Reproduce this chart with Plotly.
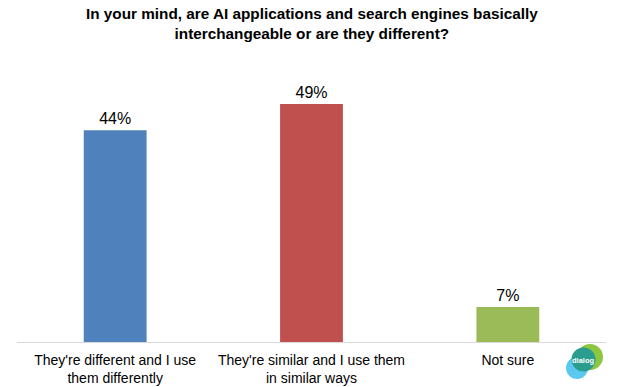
import plotly.graph_objects as go

categories = ["They're different and I use<br>them differently",
              "They're similar and I use them<br>in similar ways",
              "Not sure"]
values = [43.6, 49.0, 7.2]
labels = ["44%", "49%", "7%"]
colors = ["#4F81BD", "#C0504D", "#9BBB59"]

FONT = "Liberation Sans, Arial"
W, H = 624, 387
L, R, T, B = 17, 18, 80, 45
PW, PH = W - L - R, H - T - B

def px(x):
    return (x - L) / PW

def py(y):
    return (H - B - y) / PH

fig = go.Figure(go.Bar(
    x=categories, y=values, text=labels, textposition="outside",
    marker=dict(color=colors, line=dict(width=0)),
    textfont=dict(family=FONT, size=16, color="#000"),
    cliponaxis=False, width=0.32,
))

fig.update_layout(
    width=W, height=H,
    margin=dict(l=L, r=R, t=T, b=B, autoexpand=False),
    paper_bgcolor="white", plot_bgcolor="white",
    showlegend=False,
    xaxis=dict(showline=True, linecolor="#d9d9d9", linewidth=1, ticks="",
               ticklabelstandoff=5, automargin=False,
               tickfont=dict(family=FONT, size=14, color="#000")),
    yaxis=dict(range=[0, 53.94], visible=False, showgrid=False, automargin=False),
)

fig.add_annotation(
    text="<b>In your mind, are AI applications and search engines basically<br>interchangeable or are they different?</b>",
    xref="paper", yref="paper", x=px(312), y=py(3), xanchor="center", yanchor="top",
    showarrow=False, align="center",
    font=dict(family=FONT, size=15.3, color="#000"))

# logo decoration
def circ(cx, cy, r, color):
    fig.add_shape(type="circle", xref="paper", yref="paper",
                  x0=px(cx - r), x1=px(cx + r), y0=py(cy + r), y1=py(cy - r),
                  fillcolor=color, line_width=0, layer="above")

circ(590, 357, 13, "#8DC63F")
circ(577, 368, 11, "#5BC8F0")
circ(583.5, 359.5, 12, "#2A9D8F")
fig.add_annotation(text="<b>dialog</b>", xref="paper", yref="paper",
                   x=px(583.5), y=py(360), xanchor="center", yanchor="middle",
                   showarrow=False, font=dict(family=FONT, size=7.5, color="white"))

fig.write_html("out.html")
